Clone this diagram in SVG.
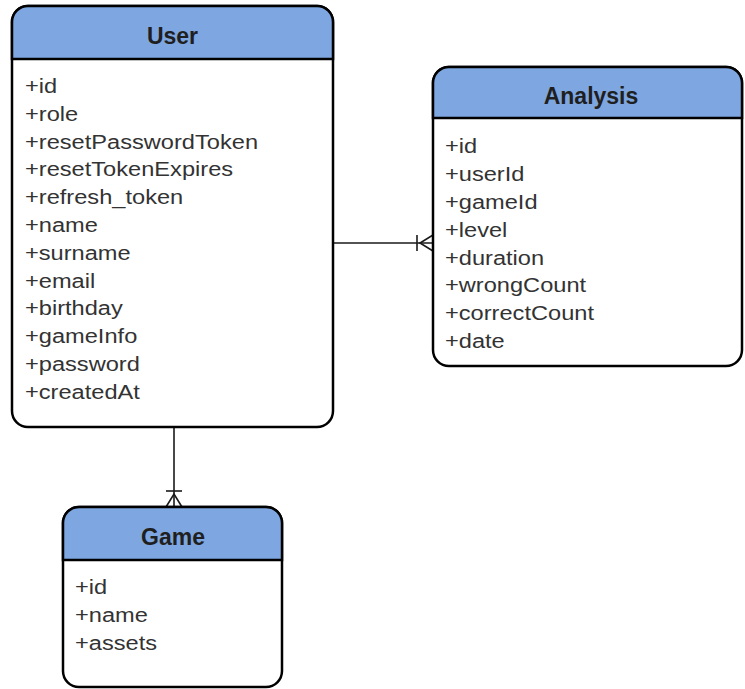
<svg xmlns="http://www.w3.org/2000/svg" width="745" height="689" viewBox="0 0 745 689">
<style>
.box{fill:#ffffff;stroke:#000000;stroke-width:2.5}
.hdr{fill:#7EA6E0;stroke:#000000;stroke-width:2.5}
.title{font-family:"Liberation Sans",Arial,sans-serif;font-size:23px;font-weight:bold;fill:#1f1f1f;text-anchor:middle}
.attr{font-family:"Liberation Sans",Arial,sans-serif;font-size:21px;fill:#333333}
.conn{fill:none;stroke:#1a1a1a;stroke-width:1.6}
</style>
<rect width="745" height="689" fill="#ffffff"/>
<g id="connectors">
  <line class="conn" x1="333" y1="243" x2="433" y2="243"/>
  <line class="conn" x1="417" y1="235" x2="417" y2="251"/>
  <path class="conn" d="M433,235 L420,243 L433,251"/>
  <line class="conn" x1="174" y1="427" x2="174" y2="507"/>
  <line class="conn" x1="166" y1="491" x2="182" y2="491"/>
  <path class="conn" d="M166,507 L174,494 L182,507"/>
</g>
<g id="user">
  <rect class="box" x="12" y="6" width="321" height="421" rx="16" ry="16"/>
  <path class="hdr" d="M12,59 V22 A16,16 0 0 1 28,6 H317 A16,16 0 0 1 333,22 V59 Z"/>
  <text class="title" x="172.5" y="43.5">User</text>
  <g transform="translate(25,0) scale(1.125,1)">
    <text class="attr" x="0" y="93">+id</text>
    <text class="attr" x="0" y="120.8">+role</text>
    <text class="attr" x="0" y="148.6">+resetPasswordToken</text>
    <text class="attr" x="0" y="176.4">+resetTokenExpires</text>
    <text class="attr" x="0" y="204.2">+refresh_token</text>
    <text class="attr" x="0" y="232">+name</text>
    <text class="attr" x="0" y="259.8">+surname</text>
    <text class="attr" x="0" y="287.6">+email</text>
    <text class="attr" x="0" y="315.4">+birthday</text>
    <text class="attr" x="0" y="343.2">+gameInfo</text>
    <text class="attr" x="0" y="371">+password</text>
    <text class="attr" x="0" y="398.8">+createdAt</text>
  </g>
</g>
<g id="analysis">
  <rect class="box" x="433" y="67" width="309" height="299" rx="16" ry="16"/>
  <path class="hdr" d="M433,118 V83 A16,16 0 0 1 449,67 H726 A16,16 0 0 1 742,83 V118 Z"/>
  <text class="title" x="591" y="103.5">Analysis</text>
  <g transform="translate(445,0) scale(1.125,1)">
    <text class="attr" x="0" y="153">+id</text>
    <text class="attr" x="0" y="180.9">+userId</text>
    <text class="attr" x="0" y="208.8">+gameId</text>
    <text class="attr" x="0" y="236.7">+level</text>
    <text class="attr" x="0" y="264.6">+duration</text>
    <text class="attr" x="0" y="292.5">+wrongCount</text>
    <text class="attr" x="0" y="320.4">+correctCount</text>
    <text class="attr" x="0" y="348.3">+date</text>
  </g>
</g>
<g id="game">
  <rect class="box" x="63" y="507" width="219" height="180" rx="16" ry="16"/>
  <path class="hdr" d="M63,560 V523 A16,16 0 0 1 79,507 H266 A16,16 0 0 1 282,523 V560 Z"/>
  <text class="title" x="173" y="544.5">Game</text>
  <g transform="translate(75,0) scale(1.125,1)">
    <text class="attr" x="0" y="594">+id</text>
    <text class="attr" x="0" y="622">+name</text>
    <text class="attr" x="0" y="650">+assets</text>
  </g>
</g>
</svg>
